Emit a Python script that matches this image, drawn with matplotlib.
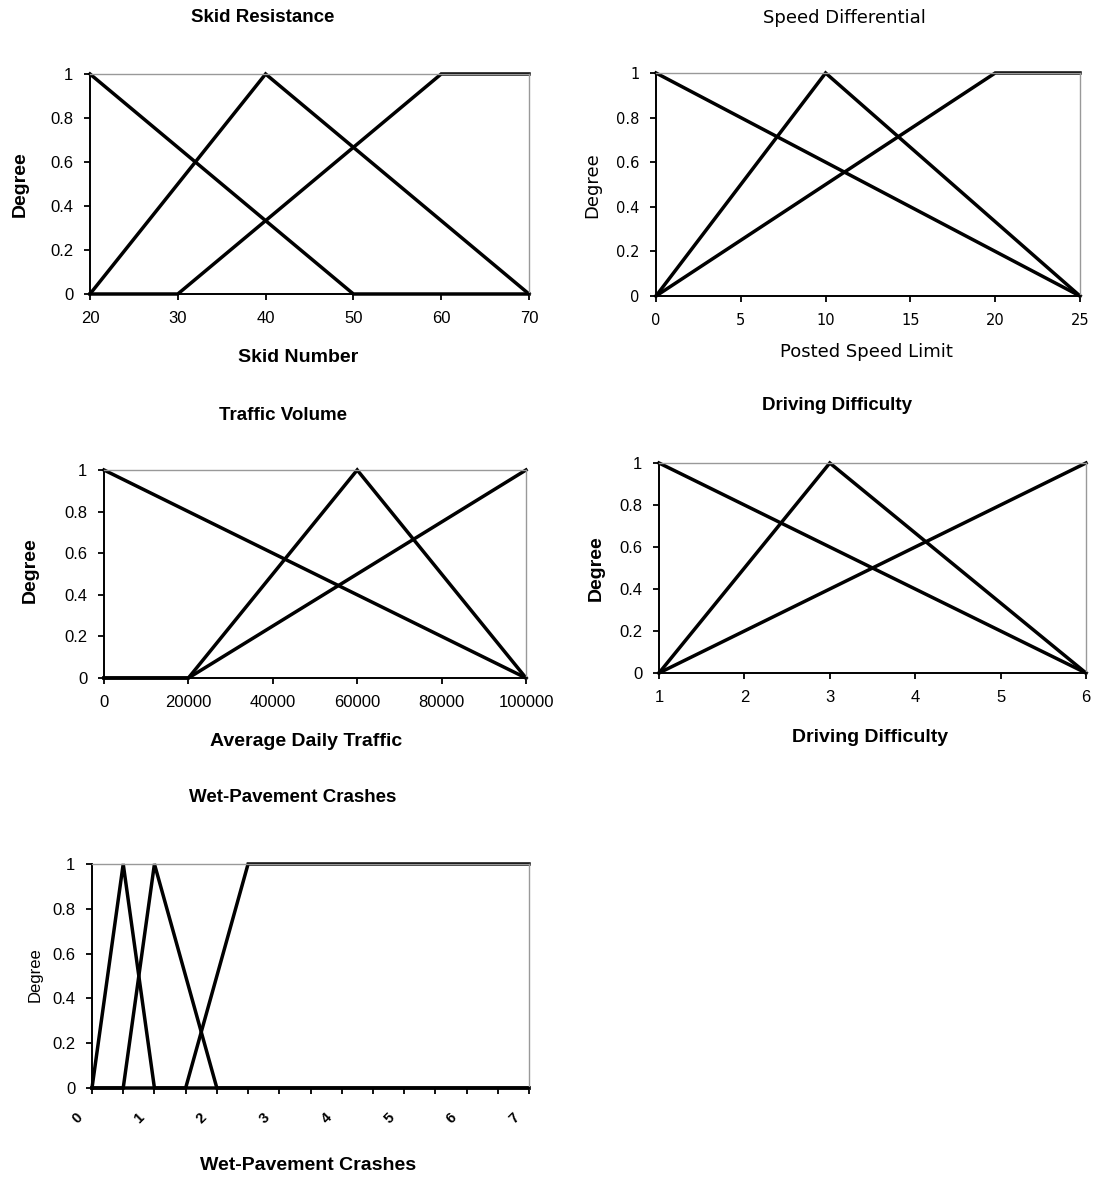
import numpy as np
import matplotlib.pyplot as plt
from matplotlib.transforms import offset_copy

W, H = 1097, 1178

# membership functions (x breakpoints, degree)
skid_x = [[20, 50, 70], [20, 40, 70], [20, 30, 60, 70]]
skid_y = [[1, 0, 0], [0, 1, 0], [0, 0, 1, 1]]

speed_x = [[0, 25], [0, 10, 25], [0, 20, 25]]
speed_y = [[1, 0], [0, 1, 0], [0, 1, 1]]

traffic_x = [[0, 100000], [0, 20000, 60000, 100000], [0, 20000, 100000]]
traffic_y = [[1, 0], [0, 0, 1, 0], [0, 0, 1]]

drive_x = [[1, 6], [1, 3, 6], [1, 6]]
drive_y = [[1, 0], [0, 1, 0], [0, 1]]

wet_x = [[0, 0.5, 1, 7], [0, 0.5, 1, 2, 7], [0, 1.5, 2.5, 7]]
wet_y = [[0, 1, 0, 0], [0, 0, 1, 0, 0], [0, 0, 1, 1]]
wet_labels = ["0", "1", "2", "3", "4", "5", "6", "7"]

yticks = [0, 0.2, 0.4, 0.6, 0.8, 1]
ylabels = ["0", "0.2", "0.4", "0.6", "0.8", "1"]

fig = plt.figure(figsize=(W / 100, H / 100), dpi=100)
fig.patch.set_facecolor("white")

ARIAL = "Liberation Sans"
WIDE = "DejaVu Sans"


def make_axes(left, right, top, bottom):
    return fig.add_axes([left / W, 1 - bottom / H, (right - left) / W, (bottom - top) / H])


def style(ax, xs, ys, xlim, xticks, xticklabels, font, tsize=12):
    for x, y in zip(xs, ys):
        ax.plot(x, y, color="black", lw=2.5, solid_joinstyle="miter", clip_on=False)
    ax.set_xlim(*xlim)
    ax.set_ylim(0, 1)
    ax.set_yticks(yticks)
    ax.set_yticklabels(ylabels, family=font, fontsize=tsize)
    ax.set_xticks(xticks)
    ax.set_xticklabels(xticklabels, family=font, fontsize=tsize)
    for s in ["top", "right"]:
        ax.spines[s].set_color("#999999")
        ax.spines[s].set_linewidth(1.0)
    for s in ["left", "bottom"]:
        ax.spines[s].set_color("black")
        ax.spines[s].set_linewidth(1.4)
    ax.tick_params(direction="out", length=4, width=1.3, color="black", pad=8)


def txt(x, y, s, font, bold, size, rot=0):
    fig.text(x / W, 1 - y / H, s, family=font, fontweight="bold" if bold else "normal",
             fontsize=size, ha="center", va="center", rotation=rot)


# Skid Resistance
ax1 = make_axes(90, 529, 74, 294)
style(ax1, skid_x, skid_y, (20, 70), [20, 30, 40, 50, 60, 70],
      ["20", "30", "40", "50", "60", "70"], ARIAL)
txt(263, 18, "Skid Resistance", ARIAL, True, 13.5)
txt(298, 358, "Skid Number", ARIAL, True, 14)
txt(20, 184, "Degree", ARIAL, True, 14, 90)

# Speed Differential
ax2 = make_axes(656, 1080, 73, 296)
style(ax2, speed_x, speed_y, (0, 25), [0, 5, 10, 15, 20, 25],
      ["0", "5", "10", "15", "20", "25"], WIDE, 10.5)
txt(844, 18, "Speed Differential", WIDE, False, 13)
txt(866, 352, "Posted Speed Limit", WIDE, False, 13)
txt(592, 185, "Degree", WIDE, False, 13, 90)

# Traffic Volume
ax3 = make_axes(104, 526, 470, 678)
style(ax3, traffic_x, traffic_y, (0, 100000), [0, 20000, 40000, 60000, 80000, 100000],
      ["0", "20000", "40000", "60000", "80000", "100000"], ARIAL)
txt(283, 415, "Traffic Volume", ARIAL, True, 13.5)
txt(306, 742, "Average Daily Traffic", ARIAL, True, 14)
txt(30, 570, "Degree", ARIAL, True, 14, 90)

# Driving Difficulty
ax4 = make_axes(659, 1086, 463, 673)
style(ax4, drive_x, drive_y, (1, 6), [1, 2, 3, 4, 5, 6],
      ["1", "2", "3", "4", "5", "6"], ARIAL)
txt(837, 406, "Driving Difficulty", ARIAL, True, 13.5)
txt(870, 737, "Driving Difficulty", ARIAL, True, 14)
txt(596, 568, "Degree", ARIAL, True, 14, 90)

# Wet-Pavement Crashes
ax5 = make_axes(92, 529, 864, 1088)
style(ax5, wet_x, wet_y, (0, 7), np.arange(0, 7.01, 0.5), [""] * 15, ARIAL)
lab_tr = offset_copy(ax5.get_xaxis_transform(), fig=fig, x=-15, y=-30, units="dots")
for i, lab in enumerate(wet_labels):
    ax5.text(i, 0, lab, family=ARIAL, fontweight="bold", fontsize=10.5, rotation=45,
             ha="center", va="center", transform=lab_tr)
txt(293, 797, "Wet-Pavement Crashes", ARIAL, True, 13.5)
txt(308, 1166, "Wet-Pavement Crashes", ARIAL, True, 14)
txt(35, 975, "Degree", ARIAL, False, 12, 90)

plt.savefig("out.png", dpi=100, facecolor="white")
